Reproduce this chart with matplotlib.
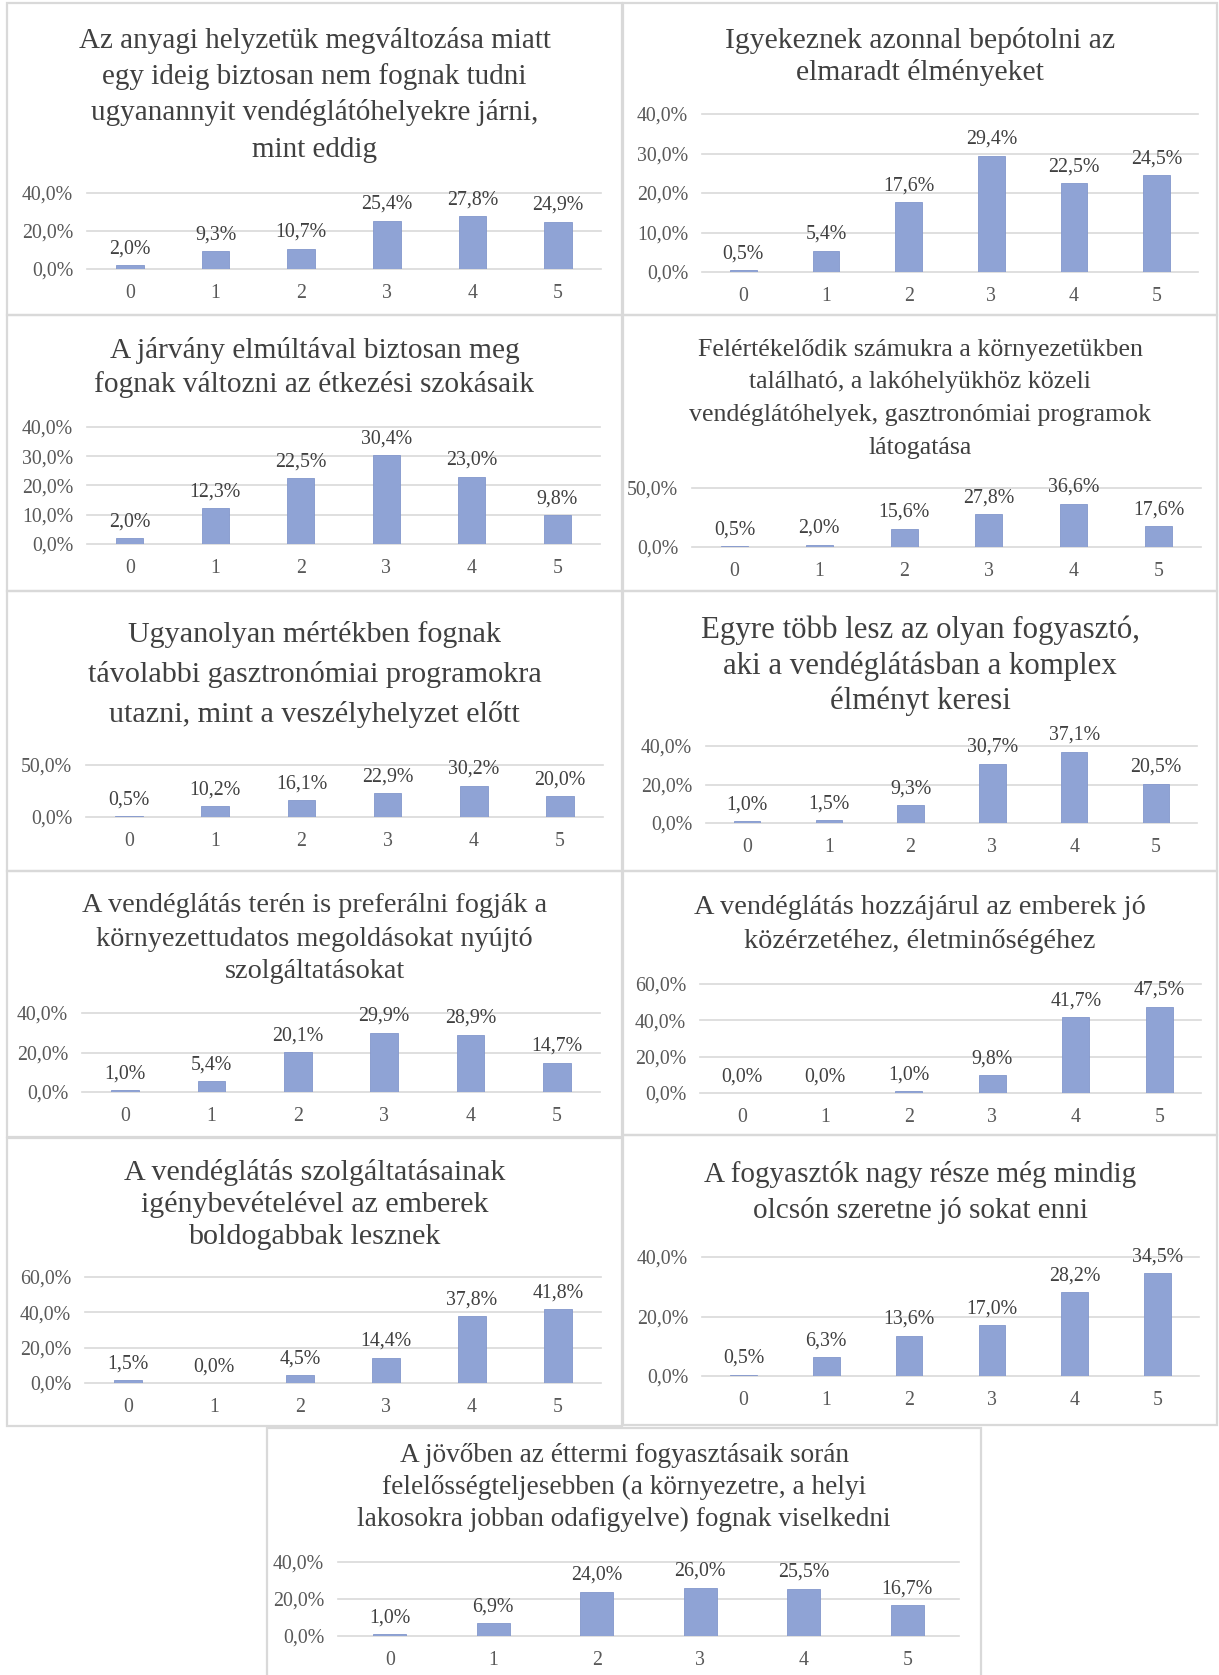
import matplotlib.pyplot as plt
from matplotlib.patches import Rectangle

plt.rcParams["font.family"] = ["Liberation Serif", "DejaVu Serif"]

W, H = 1219, 1675  # képméret pixelben

categories = ["0", "1", "2", "3", "4", "5"]

# kérdések (címsorok)
title_1 = ["Az anyagi helyzetük megváltozása miatt", "egy ideig biztosan nem fognak tudni",
           "ugyanannyit vendéglátóhelyekre járni,", "mint eddig"]
title_2 = ["Igyekeznek azonnal bepótolni az", "elmaradt élményeket"]
title_3 = ["A járvány elmúltával biztosan meg", "fognak változni az étkezési szokásaik"]
title_4 = ["Felértékelődik számukra a környezetükben", "található, a lakóhelyükhöz közeli",
           "vendéglátóhelyek, gasztronómiai programok", "látogatása"]
title_5 = ["Ugyanolyan mértékben fognak", "távolabbi gasztronómiai programokra",
           "utazni, mint a veszélyhelyzet előtt"]
title_6 = ["Egyre több lesz az olyan fogyasztó,", "aki a vendéglátásban a komplex", "élményt keresi"]
title_7 = ["A vendéglátás terén is preferálni fogják a", "környezettudatos megoldásokat nyújtó",
           "szolgáltatásokat"]
title_8 = ["A vendéglátás hozzájárul az emberek jó", "közérzetéhez, életminőségéhez"]
title_9 = ["A vendéglátás szolgáltatásainak", "igénybevételével az emberek", "boldogabbak lesznek"]
title_10 = ["A fogyasztók nagy része még mindig", "olcsón szeretne jó sokat enni"]
title_11 = ["A jövőben az éttermi fogyasztásaik során", "felelősségteljesebben (a környezetre, a helyi",
            "lakosokra jobban odafigyelve) fognak viselkedni"]

# válaszok megoszlása (%)
values_1 = [2.0, 9.3, 10.7, 25.4, 27.8, 24.9]
values_2 = [0.5, 5.4, 17.6, 29.4, 22.5, 24.5]
values_3 = [2.0, 12.3, 22.5, 30.4, 23.0, 9.8]
values_4 = [0.5, 2.0, 15.6, 27.8, 36.6, 17.6]
values_5 = [0.5, 10.2, 16.1, 22.9, 30.2, 20.0]
values_6 = [1.0, 1.5, 9.3, 30.7, 37.1, 20.5]
values_7 = [1.0, 5.4, 20.1, 29.9, 28.9, 14.7]
values_8 = [0.0, 0.0, 1.0, 9.8, 41.7, 47.5]
values_9 = [1.5, 0.0, 4.5, 14.4, 37.8, 41.8]
values_10 = [0.5, 6.3, 13.6, 17.0, 28.2, 34.5]
values_11 = [1.0, 6.9, 24.0, 26.0, 25.5, 16.7]

# tengely maximum és lépésköz
y_max = [40, 40, 40, 50, 50, 40, 40, 60, 60, 40, 40]
y_step = [20, 10, 10, 50, 50, 20, 20, 20, 20, 20, 20]

titles = [title_1, title_2, title_3, title_4, title_5, title_6,
          title_7, title_8, title_9, title_10, title_11]
values = [values_1, values_2, values_3, values_4, values_5, values_6,
          values_7, values_8, values_9, values_10, values_11]

# elrendezés pixelben: keret (x0, y0, x1, y1), rajzterület (x0, x1, felső rács, nulla vonal),
# címsorok y-közepe, címméret
layout = [
    ((7, 3, 622, 315), (87, 601, 193, 269), [40, 77, 113, 150], 21),
    ((623, 3, 1217, 315), (702, 1198, 114, 272), [40, 73], 21.4),
    ((7, 315, 622, 591), (87, 600, 427, 544), [351, 385], 21.2),
    ((623, 315, 1217, 591), (692, 1201, 488, 547), [350, 382, 415, 448], 18.6),
    ((7, 591, 622, 871), (86, 603, 765, 817), [634, 674, 714], 21.7),
    ((623, 591, 1217, 871), (706, 1197, 746, 823), [630, 666, 701], 22.2),
    ((7, 871, 622, 1137), (82, 600, 1013, 1092), [905, 939, 972], 20.3),
    ((623, 871, 1217, 1135), (700, 1201, 984, 1093), [907, 942], 20.4),
    ((7, 1138, 622, 1426), (85, 601, 1277, 1383), [1173, 1205, 1237], 21.6),
    ((623, 1135, 1217, 1425), (702, 1199, 1257, 1376), [1175, 1210], 21),
    ((267, 1428, 981, 1690), (338, 959, 1562, 1636), [1455, 1487, 1519], 19.6),
]

bar_color = "#8FA3D5"
grid_color = "#D9D9D9"
text_color = "#404040"
label_size = 14.3

fig = plt.figure(figsize=(W / 100, H / 100), dpi=100)

for title, vals, ymax, step, (box, plot, title_y, tsize) in zip(
        titles, values, y_max, y_step, layout):
    bx0, by0, bx1, by1 = box
    fig.patches.append(Rectangle((bx0 / W, 1 - by1 / H), (bx1 - bx0) / W, (by1 - by0) / H,
                                 transform=fig.transFigure, fill=False,
                                 edgecolor=grid_color, linewidth=1.6, zorder=0))
    cx = (bx0 + bx1) / 2 / W
    for line, ty in zip(title, title_y):
        fig.text(cx, 1 - ty / H, line, ha="center", va="center",
                 fontsize=tsize, color=text_color)

    px0, px1, ptop, pzero = plot
    ax = fig.add_axes([px0 / W, 1 - pzero / H, (px1 - px0) / W, (pzero - ptop) / H])
    ax.set_xlim(-0.5, 5.5)
    ax.set_ylim(0, ymax)
    ax.patch.set_alpha(0)
    for s in ax.spines.values():
        s.set_visible(False)

    ticks = list(range(0, ymax + 1, step))
    for t in ticks:
        ax.axhline(t, color=grid_color, linewidth=1.2, zorder=0, clip_on=False)
    ax.set_yticks(ticks)
    ax.set_yticklabels([f"{t:.1f}".replace(".", ",") + "%" for t in ticks])
    ax.set_xticks(range(len(categories)))
    ax.set_xticklabels(categories)
    ax.tick_params(length=0, labelsize=label_size, labelcolor="#595959")
    ax.tick_params(axis="y", pad=10)
    ax.tick_params(axis="x", pad=11)

    bars = ax.bar(range(len(categories)), vals, width=0.32, color=bar_color,
                  edgecolor="#8397CC", linewidth=0.6, zorder=2)
    for rect, v in zip(bars, vals):
        ax.annotate(f"{v:.1f}".replace(".", ",") + "%",
                    xy=(rect.get_x() + rect.get_width() / 2, v),
                    xytext=(0, 5), textcoords="offset points",
                    ha="center", va="bottom", fontsize=label_size, color=text_color,
                    annotation_clip=False)

fig.savefig("out.png", dpi=100)
